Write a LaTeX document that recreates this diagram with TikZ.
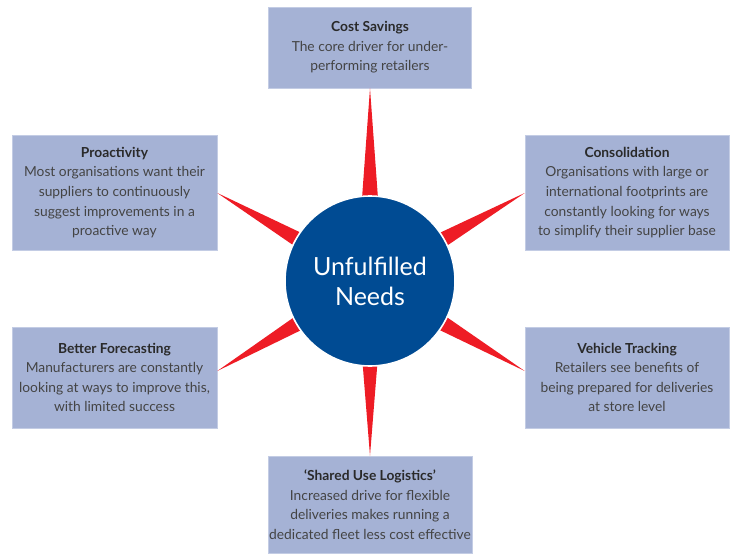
\documentclass[tikz,border=0pt]{standalone}
\usepackage{fontspec}
\setmainfont{Lato}
\usetikzlibrary{calc}
\definecolor{boxfill}{HTML}{A5B2D5}
\definecolor{boxedge}{HTML}{C3CCE4}
\definecolor{hubblue}{HTML}{004B93}
\definecolor{spikered}{HTML}{EE1C25}
\definecolor{titlegrey}{HTML}{2A2A2A}
\definecolor{bodygrey}{HTML}{444444}
\tikzset{
  needbox/.style={rectangle, fill=boxfill, draw=boxedge, line width=0.6pt,
    inner sep=0pt, align=center, text=bodygrey,
    font=\fontsize{13.8}{19.6}\selectfont},
  hub/.style={circle, fill=hubblue, draw=white, line width=1.6pt,
    minimum size=170pt, inner sep=0pt, align=center, text=white,
    font=\fontsize{25}{30}\selectfont},
  spike/.style={fill=spikered, draw=none},
}
\newcommand{\boxtitle}[1]{{\color{titlegrey}\bfseries #1}}
\begin{document}
\begin{tikzpicture}[x=1pt,y=-1pt]
  \useasboundingbox (0,0) rectangle (732,554);

  % outer boxes
  \node[needbox, minimum width=203pt, minimum height=81pt] (cost) at (370,47.5)
    {\boxtitle{Cost Savings}\\The core driver for under-\\performing retailers};
  \node[needbox, minimum width=205pt, minimum height=115pt] (proact) at (114.5,192.5)
    {\boxtitle{Proactivity}\\Most organisations want their\\suppliers to continuously\\suggest improvements in a\\proactive way};
  \node[needbox, minimum width=204pt, minimum height=115pt] (consol) at (627,192.5)
    {\boxtitle{Consolidation}\\Organisations with large or\\international footprints are\\constantly looking for ways\\to simplify their supplier base};
  \node[needbox, minimum width=205pt, minimum height=101pt] (forecast) at (114.5,377.5)
    {\boxtitle{Better Forecasting}\\Manufacturers are constantly\\looking at ways to improve this,\\with limited success};
  \node[needbox, minimum width=204pt, minimum height=101pt] (vehicle) at (627,377.5)
    {\boxtitle{Vehicle Tracking}\\Retailers see benefits of\\being prepared for deliveries\\at store level};
  \node[needbox, minimum width=204pt, minimum height=97pt] (shared) at (370,504.5)
    {\boxtitle{‘Shared Use Logistics’}\\Increased drive for flexible\\deliveries makes running a\\dedicated fleet less cost effective};

  % spike tips on the box edges
  \coordinate (tcost) at (cost.south);
  \coordinate (tproact) at ($(proact.east)+(0,0.5)$);
  \coordinate (tconsol) at ($(consol.west)+(0,0.5)$);
  \coordinate (tforecast) at ($(forecast.east)+(0,-6.5)$);
  \coordinate (tvehicle) at ($(vehicle.west)+(0,-6.5)$);
  \coordinate (tshared) at (shared.north);
  \coordinate (hubc) at (370,281);

  % red spikes running from each box into the hub
  \foreach \t in {tcost,tproact,tconsol,tforecast,tvehicle,tshared}{
    \fill[spike] (\t) -- ($(hubc)!14pt!90:(\t)$) -- ($(hubc)!14pt!-90:(\t)$) -- cycle;
  }

  % central hub
  \node[hub] (needs) at (hubc) {Unfulfilled\\Needs};
\end{tikzpicture}
\end{document}
